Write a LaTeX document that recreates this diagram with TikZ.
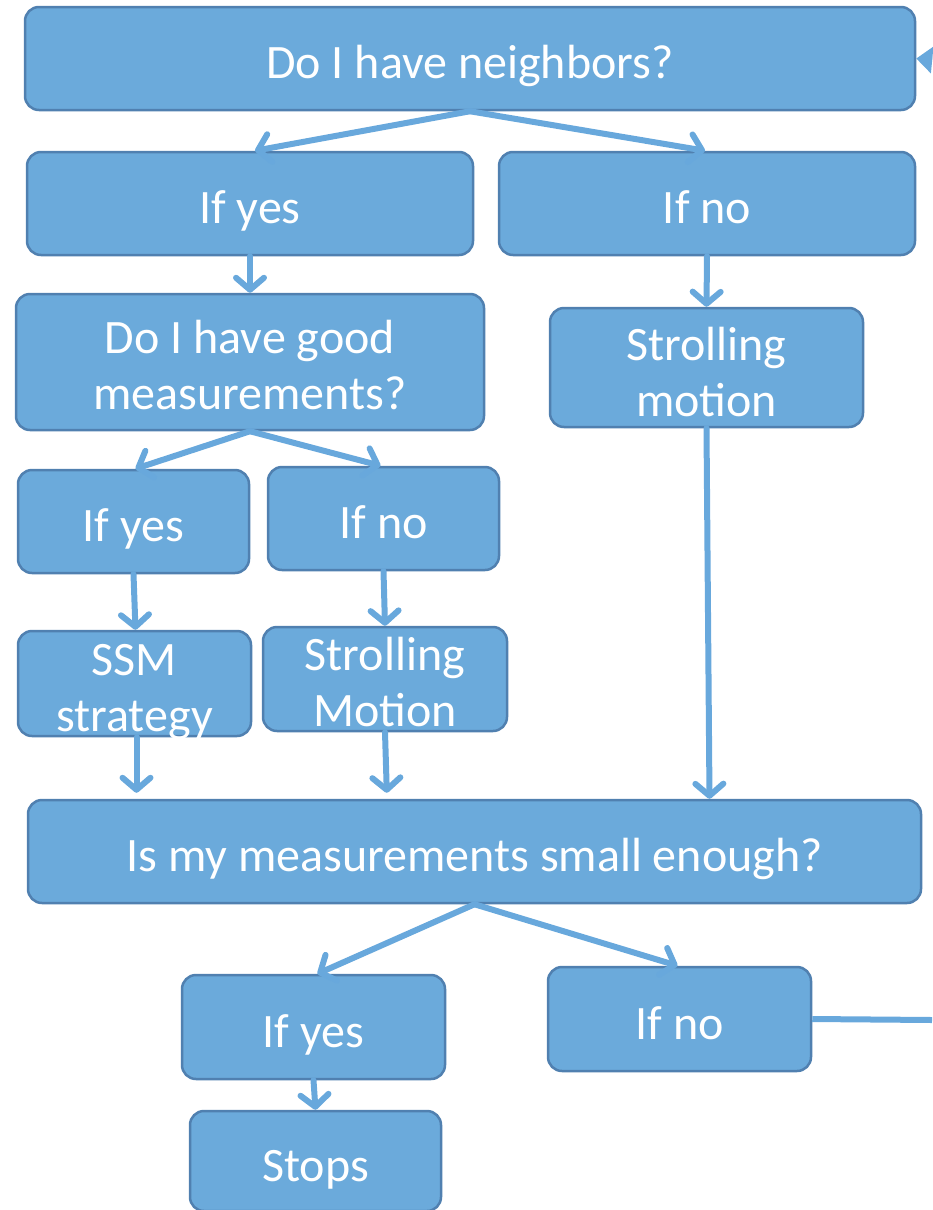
\documentclass[tikz,border=0pt]{standalone}
\usepackage{fontspec}
\setmainfont{Carlito}
\usetikzlibrary{arrows.meta,calc}
\definecolor{boxfill}{RGB}{107,170,219}
\definecolor{boxedge}{RGB}{80,128,176}
\definecolor{linec}{RGB}{104,168,220}
\tikzset{
  box/.style={draw=boxedge, line width=2.5pt, fill=boxfill, rounded corners=14pt,
    text=white, inner sep=0pt, align=center,
    font=\fontsize{48}{56}\selectfont},
  oneline/.style={text height=40pt, text depth=0pt},
  conn/.style={draw=linec, line width=6pt, line cap=round,
    -{Straight Barb[length=12pt,width=28pt,round]}},
  plain/.style={draw=linec, line width=6pt},
}
\newcommand{\lowerby}[1]{\rule{0pt}{#1}}
\newcommand{\overflowtext}[1]{\raisebox{-15pt}[0pt][0pt]{\begin{tabular}{@{}c@{}}#1\end{tabular}}}
\begin{document}
\begin{tikzpicture}[x=1pt,y=-1pt]
\useasboundingbox (0,0) rectangle (932,1210);
\node[box, oneline, minimum width=890pt, minimum height=103pt] (top) at (470,58.5) {Do I have neighbors?};
\node[box, oneline, minimum width=446pt, minimum height=103pt] (y1) at (250,203.5) {If yes};
\node[box, oneline, minimum width=416pt, minimum height=103pt] (n1) at (707,203.5) {If no};
\node[box, minimum width=468pt, minimum height=136pt] (good) at (250,362) {\lowerby{40pt}Do I have good\\measurements?};
\node[box, minimum width=313pt, minimum height=119pt] (sm1) at (706.5,367.5) {\lowerby{42pt}Strolling\\motion};
\node[box, oneline, minimum width=231pt, minimum height=103pt] (y2) at (133.5,521.5) {If yes};
\node[box, oneline, minimum width=231pt, minimum height=103pt] (n2) at (383.5,518.5) {If no};
\node[box, minimum width=233pt, minimum height=105pt] (ssm) at (134.5,683.5) {\overflowtext{SSM\\strategy}};
\node[box, minimum width=244pt, minimum height=104pt] (sm2) at (385,679) {\overflowtext{Strolling\\Motion}};
\node[box, oneline, minimum width=893pt, minimum height=103pt] (big) at (474.5,851.5) {Is my measurements small enough?};
\node[box, oneline, minimum width=263pt, minimum height=104pt] (y3) at (313.5,1027) {If yes};
\node[box, oneline, minimum width=263pt, minimum height=104pt] (n3) at (679.5,1019) {If no};
\node[box, oneline, minimum width=251pt, minimum height=100pt] (stop) at (315.5,1161) {Stops};
\coordinate (loopA) at (932,1020);
\coordinate (loopB) at (932,60);

\draw[conn] (top.south) -- ($(y1.north)+(5,0)$);
\draw[conn] (top.south) -- ($(n1.north)+(-2,0)$);
\draw[conn] (y1.south) -- (good.north);
\draw[conn] (n1.south) -- (sm1.north);
\draw[conn] (good.south) -- ($(y2.north)+(2,0)$);
\draw[conn] (good.south) -- ($(n2.north)+(-3,0)$);
\draw[conn] (y2.south) -- ($(ssm.north)+(1,0)$);
\draw[conn] (n2.south) -- ($(sm2.north)+(0,0)$);
\draw[conn, shorten >=6pt] ($(ssm.south)+(2,0)$) -- ($(ssm.south |- big.north)+(2,0)$);
\draw[conn, shorten >=6pt] ($(sm2.south)+(0,0)$) -- ($(sm2.south |- big.north)+(2,0)$);
\draw[conn] (sm1.south) -- ($(sm1.south |- big.north)+(3,0)$);
\draw[conn] (big.south) -- ($(y3.north)+(4,0)$);
\draw[conn] (big.south) -- ($(n3.north)+(-2,0)$);
\draw[conn] (y3.south) -- (stop.north);
\draw[plain] (n3.east) -- (loopA);
\draw[draw=linec, line width=6pt, -{Triangle[length=16pt,width=26pt]}] (loopB) -- (top.east);
\end{tikzpicture}
\end{document}
